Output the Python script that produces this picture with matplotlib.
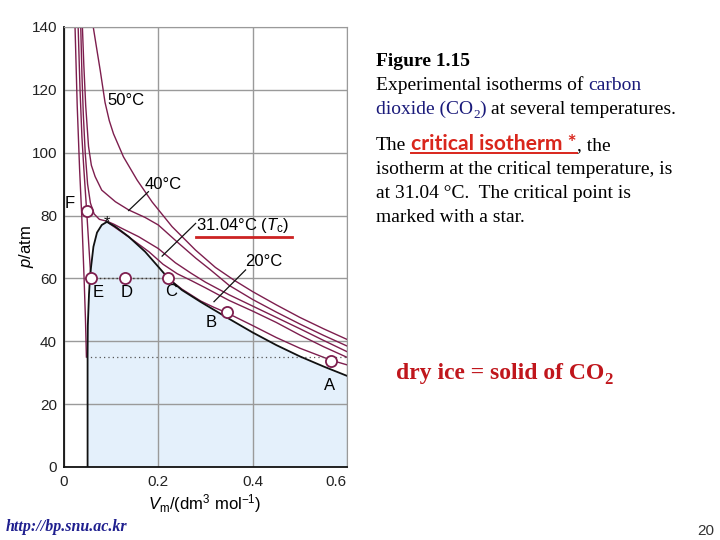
import matplotlib
matplotlib.use('Agg')
import matplotlib.pyplot as plt
from matplotlib.lines import Line2D

plt.rcParams['font.family'] = ['Liberation Sans', 'DejaVu Sans']
plt.rcParams['mathtext.fontset'] = 'custom'
plt.rcParams['mathtext.rm'] = 'Liberation Sans'
plt.rcParams['mathtext.it'] = 'Liberation Sans:italic'
plt.rcParams['mathtext.bf'] = 'Liberation Sans:bold'

# ---------------- data ----------------
x_ticks = [0, 0.2, 0.4, 0.6]
x_tick_labels = ['0', '0.2', '0.4', '0.6']
y_ticks = [0, 20, 40, 60, 80, 100, 120, 140]

# isotherm 50 degC
v50 = [0.062, 0.070, 0.077, 0.087, 0.096, 0.105, 0.126, 0.155, 0.187, 0.229, 0.279, 0.321, 0.36, 0.40, 0.45, 0.50, 0.55, 0.60]
p50 = [140, 132.5, 126, 116, 110.2, 106, 98.7, 91.3, 84.3, 76.5, 69, 63.5, 59.5, 55.8, 51.6, 47.6, 44, 40.6]
# isotherm 40 degC
v40 = [0.039, 0.042, 0.046, 0.052, 0.058, 0.066, 0.080, 0.109, 0.137, 0.172, 0.20, 0.243, 0.279, 0.31, 0.35, 0.40, 0.45, 0.50, 0.55, 0.60]
p40 = [140, 128, 115, 102, 96, 92.4, 88.1, 84.4, 81.8, 79.4, 77, 71.2, 66.5, 62.8, 57.8, 53.3, 49.3, 45.5, 41.9, 38.5]
# critical isotherm 31.04 degC
vtc = [0.0355, 0.038, 0.041, 0.045, 0.050, 0.056, 0.064, 0.075, 0.091, 0.105, 0.123, 0.158, 0.20, 0.236, 0.27, 0.30, 0.35, 0.40, 0.45, 0.50, 0.55, 0.60]
ptc = [140, 125, 112, 100, 90, 84, 80.5, 78.8, 78.2, 77.3, 75.9, 73.3, 69.5, 65, 61.6, 58.8, 54.8, 51.2, 47.6, 44, 40.3, 36.7]
# unlabelled isotherm hugging the dome
vx = [0.095, 0.12, 0.15, 0.18, 0.21, 0.24, 0.27, 0.30, 0.35, 0.40, 0.45, 0.50, 0.55, 0.60]
px = [77.6, 75, 71.8, 68.5, 64.5, 61.5, 59.3, 57, 53, 49.6, 46, 42, 38.3, 34.9]
# isotherm 20 degC: liquid branch (to E) and gas branch (from C)
v20_liq = [0.030, 0.034, 0.038, 0.042, 0.046, 0.048, 0.052, 0.057]
p20_liq = [140, 120, 105, 95, 86, 81.6, 72, 60]
v20_gas = [0.221, 0.25, 0.29, 0.318, 0.346, 0.40, 0.45, 0.50, 0.566, 0.60]
p20_gas = [60, 56.6, 52.8, 50.8, 49.0, 45, 41.2, 37.8, 34, 32.5]
# coldest isotherm, liquid branch
vcold = [0.0234, 0.028, 0.033, 0.0376, 0.0426, 0.0455, 0.0475]
pcold = [140, 115, 95, 80, 60, 47, 35]
# two-phase boundary (black curve)
vdome = [0.050, 0.050, 0.0505, 0.053, 0.055, 0.0574, 0.0624, 0.070, 0.080, 0.091, 0.1085, 0.137, 0.172, 0.200, 0.215, 0.221,
         0.25, 0.29, 0.346, 0.40, 0.45, 0.50, 0.55, 0.60]
pdome = [0, 35, 45, 55, 60, 63.7, 70.1, 74.6, 77, 78, 76.5, 73.3, 68.5, 63.7, 61.1, 60,
         56.3, 52.5, 47.5, 42.8, 38.8, 35.2, 32, 29]
# plateaus (dotted)
plateau20_v = [0.057, 0.221]
plateau20_p = [60, 60]
plateau_cold_v = [0.0475, 0.60]
plateau_cold_p = [35, 35]
# marked points
pt_names = ['A', 'B', 'C', 'D', 'E', 'F']
pt_v = [0.566, 0.346, 0.221, 0.130, 0.057, 0.048]
pt_p = [33.6, 49.4, 60.2, 60.2, 60.2, 81.6]
crit_v, crit_p = 0.092, 77.8

# ---------------- figure ----------------
W, H = 720, 540
fig = plt.figure(figsize=(7.2, 5.4), dpi=100)
ax = fig.add_axes([64 / W, 1 - 467 / H, 283 / W, 440 / H])

iso_col = '#7d1e4e'
ax.fill(vdome + [0.60], pdome + [0], color='#e4f0fb', zorder=0.3, lw=0)
for v, p in [(v50, p50), (v40, p40), (vtc, ptc), (vx, px), (v20_liq, p20_liq), (v20_gas, p20_gas), (vcold, pcold)]:
    ax.plot(v, p, color=iso_col, lw=1.0, zorder=2)
ax.plot(vdome, pdome, color='#111111', lw=1.3, zorder=2.5)
ax.plot(plateau20_v, plateau20_p, color='#333333', lw=1.0, ls=(0, (1, 2)), zorder=2)
ax.plot(plateau_cold_v, plateau_cold_p, color='#555555', lw=0.9, ls=(0, (1, 2.5)), zorder=2)
ax.plot(pt_v, pt_p, 'o', ms=8, mfc='white', mec=iso_col, mew=1.3, zorder=4)
ax.text(crit_v, crit_p, '*', fontsize=12, ha='center', va='center', color='#111111', zorder=5)

ax.set_xlim(0, 0.6)
ax.set_ylim(0, 140)
ax.set_xticks(x_ticks)
ax.set_xticklabels(x_tick_labels)
ax.set_yticks(y_ticks)
ax.tick_params(length=0, labelsize=11, colors='#222222')
ax.tick_params(axis='x', pad=6)
ax.tick_params(axis='y', pad=5)
ax.get_xticklabels()[-1].set_horizontalalignment('right')
ax.set_axisbelow(True)
ax.grid(True, color='#9a9a9a', lw=1.0)
for s in ['top', 'right']:
    ax.spines[s].set_color('#9a9a9a')
for s in ['left', 'bottom']:
    ax.spines[s].set_color('#111111')
    ax.spines[s].set_linewidth(1.3)

ax.text(-0.134, 0.5, '$p$/atm', transform=ax.transAxes, rotation=90, ha='center', va='center', fontsize=12)
ax.text(0.498, -0.082, r'$V_\mathrm{m}$/(dm$^3$ mol$^{-1}$)', transform=ax.transAxes, ha='center', va='center', fontsize=12)

# curve labels and pointers
ax.text(0.132, 116.6, '50°C', fontsize=12, ha='center', va='center')
ax.text(0.211, 90.0, '40°C', fontsize=12, ha='center', va='center')
ax.text(0.279, 76.7, r'31.04°C ($T_\mathrm{c}$)', fontsize=12, ha='left', va='center')
ax.text(0.423, 65.5, '20°C', fontsize=12, ha='center', va='center')
ax.plot([0.179, 0.137], [87.6, 81.6], color='#111111', lw=0.9, zorder=3)
ax.plot([0.279, 0.208], [77.5, 67.1], color='#111111', lw=0.9, zorder=3)
ax.plot([0.385, 0.318], [62.7, 52.6], color='#111111', lw=0.9, zorder=3)
ax.plot([0.279, 0.483], [73.2, 73.2], color='#cc2222', lw=2.0, zorder=3, clip_on=False)

lab_pos = {'F': (0.013, 84.0), 'E': (0.072, 55.4), 'D': (0.132, 55.4), 'C': (0.228, 55.7),
           'B': (0.313, 46.1), 'A': (0.562, 25.8)}
for name in pt_names:
    lx, ly = lab_pos[name]
    ax.text(lx, ly, name, fontsize=12, ha='center', va='center')

# ---------------- slide text ----------------
renderer = fig.canvas.get_renderer()


def measure(s, **kw):
    t = fig.text(0, 0, s, **kw)
    w = t.get_window_extent(renderer).width
    t.remove()
    return w


def width_of(s, **kw):
    return measure('|' + s + '|', **kw) - measure('||', **kw)


def put_runs(x_px, y_px, runs):
    x = x_px
    for r in runs:
        s = r['s']
        kw = dict(fontsize=r.get('size', 14), family=r.get('family', 'Liberation Serif'),
                  weight=r.get('weight', 'normal'), style=r.get('style', 'normal'))
        lead = len(s) - len(s.lstrip(' '))
        x0 = x + (width_of(' ' * lead, **kw) if lead else 0)
        body = s.strip(' ')
        fig.text(x0 / W, 1 - (y_px + r.get('dy', 0)) / H, body, color=r.get('color', 'black'),
                 va='baseline', ha='left', **kw)
        bw = width_of(body, **kw)
        if r.get('underline'):
            fig.add_artist(Line2D([x0 / W, (x0 + bw) / W], [1 - (y_px + 3) / H] * 2,
                                  color=r.get('color', 'black'), lw=1.4, transform=fig.transFigure))
        x += width_of(s, **kw)
    return x


navy = '#1a1a7a'
red = '#d9261c'
tx = 376
put_runs(tx, 66, [dict(s='Figure 1.15', weight='bold')])
put_runs(tx, 90, [dict(s='Experimental isotherms of '), dict(s='carbon', color=navy)])
put_runs(tx, 114, [dict(s='dioxide (CO', color=navy), dict(s='2', color=navy, size=9.5, dy=4),
                   dict(s=')', color=navy), dict(s=' at several temperatures.')])
put_runs(tx, 150, [dict(s='The '), dict(s='critical isotherm *', color=red, family='Lato', weight='bold',
                                        size=15.2, underline=True), dict(s=', the')])
put_runs(tx, 174, [dict(s='isotherm at the critical temperature, is')])
put_runs(tx, 198, [dict(s='at 31.04 °C.  The critical point is')])
put_runs(tx, 222, [dict(s='marked with a star.')])

put_runs(396, 379, [dict(s='dry ice = solid of CO', color='#c0161c', weight='bold', size=17),
                    dict(s='2', color='#c0161c', weight='bold', size=12, dy=5)])

put_runs(6, 531, [dict(s='http://bp.snu.ac.kr', color='#1f1f8f', weight='bold', style='italic', size=11.5)])
fig.text(697 / W, 1 - 535 / H, '20', fontsize=11, color='#333333', va='baseline', ha='left',
         family='Liberation Sans')

fig.savefig('out.png', dpi=100)
